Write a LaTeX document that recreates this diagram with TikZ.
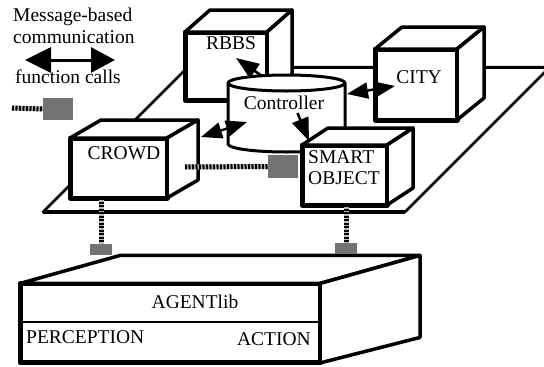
\documentclass[tikz,border=0pt]{standalone}
\usepackage{fontspec}
\setmainfont{Liberation Serif}
\usetikzlibrary{arrows.meta,calc}

\begin{document}
\begin{tikzpicture}[x=1pt,y=-1pt,line join=round,
    txt/.style={inner sep=0pt,font=\fontsize{19.5}{21}\selectfont},
    front/.style={draw,fill=white,line width=5pt,outer sep=0pt,inner sep=0pt},
    face/.style={draw,fill=white,line width=3.5pt},
    cyl/.style={draw,fill=white,line width=3pt},
    msg/.style={line width=2.5pt,-{Triangle[length=23pt,width=17pt]}},
    msgtwo/.style={line width=2.5pt,{Triangle[length=21pt,width=16pt]}-{Triangle[length=21pt,width=16pt]}},
    fcall/.style={line width=5pt,draw=black,dash pattern=on 2pt off 1.5pt,
        preaction={draw=gray!55,line width=5pt,dash pattern=}},
    fsq/.style={fill=black!55,inner sep=0pt,outer sep=0pt}]
        \useasboundingbox (0,0) rectangle (544,367);
        \clip (0,0) rectangle (544,367);

        % legend
        \node[txt,anchor=west] (msglbl) at (13,17) {Message-based};
        \node[txt,anchor=west] (comlbl) at (13,37) {communication};
        \coordinate (legl) at (25,60);
        \coordinate (legr) at (115,60);
        \draw[line width=3pt,{Triangle[length=26pt,width=25pt]}-{Triangle[length=24pt,width=25pt]}] (legl) -- (legr);
        \node[txt,anchor=west] (fnlbl) at (15,77) {function calls};
        \coordinate (legf) at (12,108);
        \node[fsq,minimum width=30pt,minimum height=22pt] (sqleg) at (58,109) {};
        \draw[fcall] (legf) -- (sqleg.west);

        % plane
        \draw[line width=2.5pt] (43,212) -- (405,212) -- (550,67) -- (188,67) -- cycle;
        \draw[line width=4pt] (43,212) -- (405,212);
        \draw[line width=3pt] (188,67) -- (550,67);

        % RBBS
        \node[front,minimum width=82pt,minimum height=68pt] (rbbs) at (226,66) {};
        \filldraw[face] (rbbs.north west) -- ++(25,-22) -- ++(82,0) -- (rbbs.north east) -- cycle;
        \filldraw[face] (rbbs.north east) -- ++(25,-22) -- ++(0,68) -- (rbbs.south east) -- cycle;
        \node[txt] (rbbslbl) at (231,43) {RBBS};

        % CITY
        \node[front,minimum width=82pt,minimum height=71pt] (city) at (416,84.5) {};
        \filldraw[face] (city.north west) -- ++(27,-22) -- ++(82,0) -- (city.north east) -- cycle;
        \filldraw[face] (city.north east) -- ++(27,-22) -- ++(0,71) -- (city.south east) -- cycle;
        \node[txt] (citylbl) at (419,77) {CITY};

        % Controller
        \coordinate (ctrl) at (286.5,83);
        \filldraw[cyl] ($(ctrl)+(-58.5,0)$) -- ++(0,61)
            arc[start angle=180,end angle=0,x radius=58.5,y radius=8] -- ++(0,-61)
            arc[start angle=0,end angle=-180,x radius=58.5,y radius=8] -- cycle;
        \draw[cyl,fill=none] ($(ctrl)+(58.5,0)$) arc[start angle=0,end angle=180,x radius=58.5,y radius=8];
        \node[txt] (ctrllbl) at (284,103) {Controller};

        % CROWD
        \node[front,minimum width=97pt,minimum height=60pt] (crowd) at (118.5,168) {};
        \filldraw[face] (crowd.north west) -- ++(31,-18) -- ++(97,0) -- (crowd.north east) -- cycle;
        \filldraw[face] (crowd.north east) -- ++(31,-18) -- ++(0,60) -- (crowd.south east) -- cycle;
        \node[txt] (crowdlbl) at (124,153) {CROWD};

        % function call CROWD -> SMART OBJECT
        \node[fsq,minimum width=30pt,minimum height=23pt] (sqso) at (283,166.5) {};
        \draw[fcall] ($(crowd.east)+(18,-1)$) -- (sqso.west);

        % SMART OBJECT
        \node[front,minimum width=85pt,minimum height=60pt] (smart) at (344.5,175) {};
        \filldraw[face] (smart.north west) -- ++(26,-17) -- ++(85,0) -- (smart.north east) -- cycle;
        \filldraw[face] (smart.north east) -- ++(26,-17) -- ++(0,60) -- (smart.south east) -- cycle;
        \node[txt,align=left,anchor=west] (smartlbl) at (308,167.5) {SMART\\OBJECT};

        % message-based links
        \draw[msg] ($(ctrl)+(-24.5,-7)$) -- ($(rbbs.south east)+(-31,-42)$);
        \draw[msgtwo] ($(crowd.east)+(34,-31)$) -- ($(ctrl)+(-39.5,39)$);
        \draw[msgtwo] ($(ctrl)+(60.5,11)$) -- ($(city.west)+(20,1.5)$);
        \draw[msg] ($(ctrl)+(11,30)$) -- ($(smart.north west)+(7,-4)$);

        % AGENTlib
        \node[front,minimum width=300pt,minimum height=79.5pt] (agentlib) at (170,323.2) {};
        \filldraw[face] (agentlib.north west) -- ++(100,-28) -- ++(300,0) -- (agentlib.north east) -- cycle;
        \filldraw[face] (agentlib.north east) -- ++(100,-28) -- ++(0,82) -- (agentlib.south east) -- cycle;
        \draw[line width=2pt] ($(agentlib.west)+(0,-1)$) -- ($(agentlib.east)+(-2,-1)$);
        \node[txt] (agentlbl) at (195,302) {AGENTlib};
        \node[txt,anchor=west] (perclbl) at (26,337) {PERCEPTION};
        \node[txt,anchor=east] (actlbl) at (311,339) {ACTION};

        % function calls to AGENTlib
        \node[fsq,minimum width=22pt,minimum height=11pt] (sqcr) at (101,249) {};
        \node[fsq,minimum width=22pt,minimum height=11pt] (sqsm) at (346,248) {};
        \draw[fcall] (crowd.south -| sqcr) -- (sqcr.north);
        \draw[fcall] (smart.south -| sqsm) -- (sqsm.north);
\end{tikzpicture}
\end{document}
